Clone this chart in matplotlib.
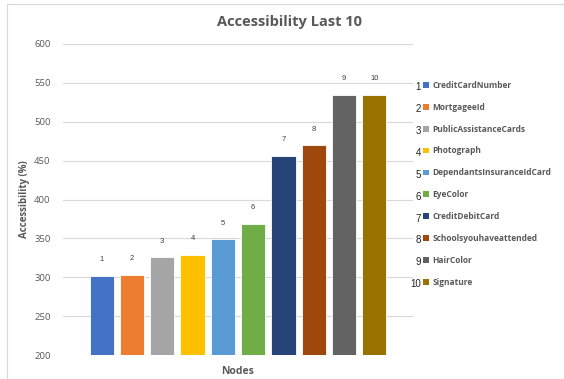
import matplotlib
matplotlib.use("Agg")
import matplotlib.pyplot as plt
from matplotlib.patches import Patch
from matplotlib.lines import Line2D

# data
node_ids = [1, 2, 3, 4, 5, 6, 7, 8, 9, 10]
node_names = [
    "CreditCardNumber", "MortgageeId", "PublicAssistanceCards", "Photograph",
    "DependantsInsuranceIdCard", "EyeColor", "CreditDebitCard",
    "Schoolsyouhaveattended", "HairColor", "Signature",
]
accessibility = [302, 303, 326, 329, 349, 369, 456, 470, 535, 535]
bar_colors = [
    "#4472C4", "#ED7D31", "#A5A5A5", "#FFC000", "#5B9BD5",
    "#70AD47", "#264478", "#9E480E", "#636363", "#997300",
]
y_ticks = [200, 250, 300, 350, 400, 450, 500, 550, 600]

plt.rcParams["font.family"] = ["Open Sans", "DejaVu Sans"]
gray = "#595959"

fig = plt.figure(figsize=(5.64, 3.79), dpi=100)
ax = fig.add_axes([0.112, 0.063, 0.620, 0.821])

positions = list(range(len(node_ids)))
bars = ax.bar(positions, accessibility, width=0.8, color=bar_colors,
              edgecolor="white", linewidth=0.6, zorder=3)

for b, n in zip(bars, node_ids):
    ax.annotate(str(n), (b.get_x() + b.get_width() / 2, b.get_height()),
                xytext=(0, 9), textcoords="offset points", ha="center",
                va="bottom", fontsize=5.5, color="#404040",
                family="Liberation Sans")

ax.set_ylim(200, 600)
ax.set_xlim(-1.27, 10.27)
ax.set_yticks(y_ticks)
ax.set_xticks([])
ax.tick_params(axis="y", length=0, labelsize=6.8, labelcolor=gray, pad=9)
ax.grid(axis="y", color="#D9D9D9", linewidth=0.8, zorder=0)
for s in ax.spines.values():
    s.set_visible(False)

ax.set_ylabel("Accessibility (%)", fontsize=7, fontweight="bold", color=gray)
ax.yaxis.set_label_coords(-0.095, 0.5)
ax.set_xlabel("Nodes", fontsize=7.5, fontweight="bold", color=gray, labelpad=8)
fig.text(0.513, 0.943, "Accessibility Last 10", ha="center", va="center",
         fontsize=10.5, fontweight="bold", color=gray)

# legend with its index numbers to the left of each marker
handles = [Patch(facecolor=c, edgecolor="none") for c in bar_colors]
leg = fig.legend(handles, node_names, loc="upper left",
                 bbox_to_anchor=(0.750, 0.787), frameon=False,
                 handlelength=0.7, handleheight=0.7, handletextpad=0.45,
                 labelspacing=1.55, prop={"size": 6, "weight": "bold"},
                 borderaxespad=0, borderpad=0)
for t in leg.get_texts():
    t.set_color(gray)

fig.canvas.draw()
inv = fig.transFigure.inverted()
for t, n in zip(leg.get_texts(), node_ids):
    bb = t.get_window_extent()
    x0, y0 = inv.transform((bb.x0, bb.y0))
    fig.text(0.746, y0 - 0.006, str(n), ha="right", va="bottom", fontsize=7,
             color="#222222", family="Liberation Sans")

# light frame on the left and top
fig.add_artist(Line2D([0.0125, 0.0125], [0.0, 0.989], transform=fig.transFigure,
                      color="#D9D9D9", linewidth=0.8))
fig.add_artist(Line2D([0.0125, 1.0], [0.989, 0.989], transform=fig.transFigure,
                      color="#D9D9D9", linewidth=0.8))

fig.savefig("out.png", dpi=100)
